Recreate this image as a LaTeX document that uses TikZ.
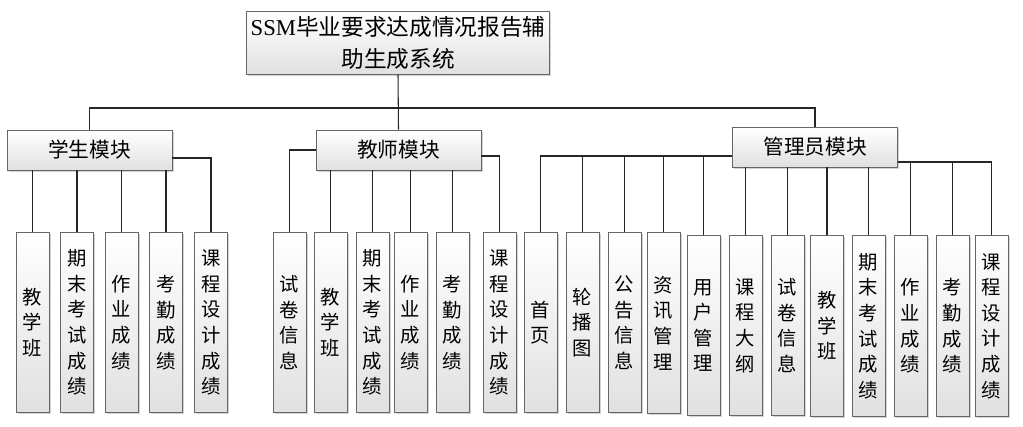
\documentclass[tikz,border=0pt]{standalone}
\usepackage{fontspec}
\setmainfont{Liberation Serif}
\newfontfamily\cjk{Noto Sans CJK SC}
\usetikzlibrary{shadows}
\tikzset{
  boxbase/.style={draw=black!60, line width=0.6pt, top color=white, bottom color=black!12,
    drop shadow={shadow xshift=1.2pt, shadow yshift=-1.2pt, opacity=0.35}},
  rootbox/.style={boxbase, minimum width=222pt, minimum height=45pt, align=center, font=\fontsize{17}{24.5}\selectfont\cjk},
  modbox/.style={boxbase, minimum width=123.75pt, minimum height=30pt, font=\fontsize{15.5}{18}\selectfont\cjk},
  leafbox/.style={boxbase, minimum width=24.75pt, minimum height=135.5pt, inner sep=1pt, align=center, font=\fontsize{14.5}{19.2}\selectfont\cjk},
  link/.style={line width=0.8pt, black!85}
}

\begin{document}
\begin{tikzpicture}[x=0.75pt, y=-0.75pt]
  \useasboundingbox (0,0) rectangle (1023,426);
  % top and modules
  \node[rootbox] (root) at (398,43) {{\rmfamily SSM}毕业要求达成情况报告辅\\助生成系统};
  \node[modbox] (stu) at (89.5,150) {学生模块};
  \node[modbox] (tea) at (398.5,150) {教师模块};
  \node[modbox] (adm) at (815,147) {管理员模块};
  % student leaves
  \node[leafbox] (s1) at (32.5,322.5) {教\\学\\班};
  \node[leafbox] (s2) at (77,322.5) {期\\末\\考\\试\\成\\绩};
  \node[leafbox] (s3) at (121.5,322.5) {作\\业\\成\\绩};
  \node[leafbox] (s4) at (166,322.5) {考\\勤\\成\\绩};
  \node[leafbox] (s5) at (211,322.5) {课\\程\\设\\计\\成\\绩};
  % teacher leaves
  \node[leafbox] (t1) at (289.5,322.5) {试\\卷\\信\\息};
  \node[leafbox] (t2) at (330.5,322.5) {教\\学\\班};
  \node[leafbox] (t3) at (372.5,322.5) {期\\末\\考\\试\\成\\绩};
  \node[leafbox] (t4) at (410.5,322.5) {作\\业\\成\\绩};
  \node[leafbox] (t5) at (452.5,322.5) {考\\勤\\成\\绩};
  \node[leafbox] (t6) at (499.5,322.5) {课\\程\\设\\计\\成\\绩};
  % admin leaves
  \node[leafbox] (a1) at (540.5,322.5) {首\\页};
  \node[leafbox] (a2) at (582.5,322.5) {轮\\播\\图};
  \node[leafbox] (a3) at (624.5,322.5) {公\\告\\信\\息};
  \node[leafbox] (a4) at (663.5,323) {资\\讯\\管\\理};
  \node[leafbox] (a5) at (703.5,325.5) {用\\户\\管\\理};
  \node[leafbox] (a6) at (745.5,325.5) {课\\程\\大\\纲};
  \node[leafbox] (a7) at (787.5,325.5) {试\\卷\\信\\息};
  \node[leafbox] (a8) at (827,326) {教\\学\\班};
  \node[leafbox] (a9) at (868.5,326) {期\\末\\考\\试\\成\\绩};
  \node[leafbox] (a10) at (910.5,326) {作\\业\\成\\绩};
  \node[leafbox] (a11) at (952.5,326) {考\\勤\\成\\绩};
  \node[leafbox] (a12) at (991.5,326) {课\\程\\设\\计\\成\\绩};

  % connectors
  \coordinate (bus) at (398,108);
  \draw[link] (root.south) -- (tea.north);
  \draw[link] (stu.north) |- (bus) -| (adm.north);

  \foreach \c in {s1,s2,s3,s4}
    \draw[link] (\c.north) -- (\c.north |- stu.south);
  \coordinate (sr) at ([yshift=-6pt]stu.east);
  \draw[link] (sr) -| (s5.north);

  \foreach \c in {t2,t3,t4,t5}
    \draw[link] (\c.north) -- (\c.north |- tea.south);
  \draw[link] (tea.west) -| (t1.north);
  \coordinate (tr) at ([yshift=-4.5pt]tea.east);
  \draw[link] (tr) -| (t6.north);

  \coordinate (al) at ([yshift=-6.75pt]adm.west);
  \coordinate (ar) at ([yshift=-11.25pt]adm.east);
  \draw[link] (al) -| (a1.north);
  \foreach \c in {a2,a3,a4,a5}
    \draw[link] (\c.north) -- (\c.north |- al);
  \foreach \c in {a6,a7,a8,a9}
    \draw[link] (\c.north) -- (\c.north |- adm.south);
  \draw[link] (ar) -| (a12.north);
  \foreach \c in {a10,a11}
    \draw[link] (\c.north) -- (\c.north |- ar);
\end{tikzpicture}
\end{document}
